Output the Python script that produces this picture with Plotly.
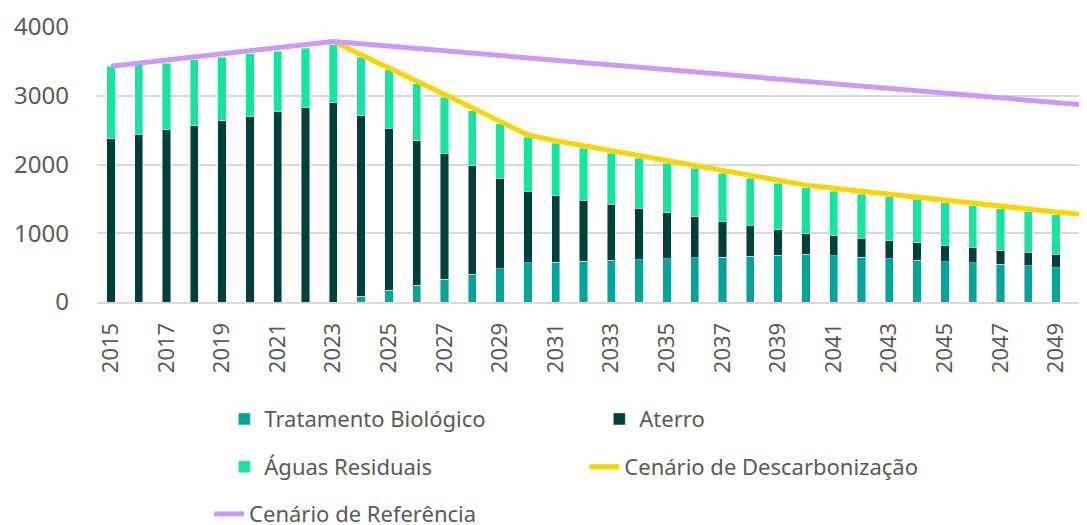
import plotly.graph_objects as go

anos = list(range(2015, 2051))

tratamento_biologico = [0, 0, 0, 0, 0, 0, 0, 0, 0,
                        83, 170, 243, 331, 404, 487, 569, 579, 593, 608, 618,
                        627, 647, 652, 666, 681, 695, 671, 652, 627, 608,
                        589, 569, 550, 525, 501, 481]
aterro = [2376, 2434, 2507, 2566, 2634, 2697, 2765, 2828, 2897,
          2628, 2357, 2104, 1832, 1579, 1312, 1045, 966, 889, 816, 748,
          670, 592, 524, 452, 369, 296, 291, 277, 262, 252,
          238, 224, 204, 199, 194, 175]
aguas_residuais = [1050, 1016, 968, 957, 928, 914, 885, 866, 845,
                   851, 850, 826, 816, 801, 791, 782, 764, 754, 739, 724,
                   720, 706, 696, 685, 680, 671, 652, 641, 642, 632,
                   616, 607, 602, 588, 573, 583]

anos_desc = list(range(2023, 2051))
cenario_descarbonizacao = [3790, 3600, 3420, 3215, 3020, 2825, 2630, 2430,
                           2345, 2275, 2200, 2130, 2060, 1985, 1915, 1845,
                           1770, 1700, 1655, 1610, 1570, 1530, 1485, 1440,
                           1395, 1350, 1310, 1274]
cenario_referencia = [3430, 3475, 3520, 3565, 3610, 3655, 3700, 3745, 3790,
                      3756, 3722, 3688, 3653, 3619, 3585, 3551, 3517, 3482,
                      3448, 3414, 3380, 3346, 3311, 3277, 3243, 3209, 3175,
                      3140, 3106, 3072, 3038, 3004, 2969, 2935, 2901, 2867]

tick_anos = list(range(2015, 2050, 2))

FONT = "Noto Sans"
GREY = "#595959"

fig = go.Figure()
fig.add_trace(go.Bar(x=anos, y=tratamento_biologico, name="Tratamento Biológico",
                     marker_color="#00a59c", width=0.3, legend="legend"))
fig.add_trace(go.Bar(x=anos, y=aterro, name="Aterro",
                     marker_color="#00403b", width=0.3, legend="legend"))
fig.add_trace(go.Bar(x=anos, y=aguas_residuais, name="Águas Residuais",
                     marker_color="#14e6a1", width=0.3, legend="legend2"))
fig.add_trace(go.Scatter(x=anos_desc, y=cenario_descarbonizacao, mode="lines",
                         name="Cenário de Descarbonização",
                         line=dict(color="#fbd500", width=5), legend="legend2"))
fig.add_trace(go.Scatter(x=anos, y=cenario_referencia, mode="lines",
                         name="Cenário de Referência",
                         line=dict(color="#cc99fb", width=5), legend="legend3"))

# three separate legends so the rows get the wide spacing of the original
# (page has an 8px body margin, so container coords are shifted by that)
leg = dict(orientation="h", xanchor="left", yanchor="middle", entrywidth=330,
           traceorder="normal", xref="container", yref="container",
           font=dict(size=22, color=GREY, family=FONT), bgcolor="rgba(0,0,0,0)")

fig.update_layout(
    barmode="stack",
    width=1087, height=525,
    margin=dict(l=89, r=0, t=19, b=231, autoexpand=False),
    paper_bgcolor="white", plot_bgcolor="white",
    font=dict(family=FONT, color=GREY),
    legend=dict(leg, x=0.199, y=0.217),
    legend2=dict(leg, x=0.199, y=0.126, entrywidth=315),
    legend3=dict(leg, x=0.185, y=0.036),
)
fig.update_xaxes(range=[2014.5, 2050.4], tickvals=tick_anos,
                 ticktext=[str(a) for a in tick_anos], tickangle=-90,
                 tickfont=dict(size=22, color=GREY), showgrid=False,
                 showline=True, linecolor="#d9d9d9", linewidth=2, ticks="",
                 ticklabelstandoff=10)
fig.update_yaxes(range=[0, 4000], dtick=1000, tickfont=dict(size=24, color=GREY),
                 gridcolor="#d9d9d9", gridwidth=2, zeroline=False, ticks="",
                 ticklen=0, ticklabelstandoff=27)

fig.write_html("out.html")
